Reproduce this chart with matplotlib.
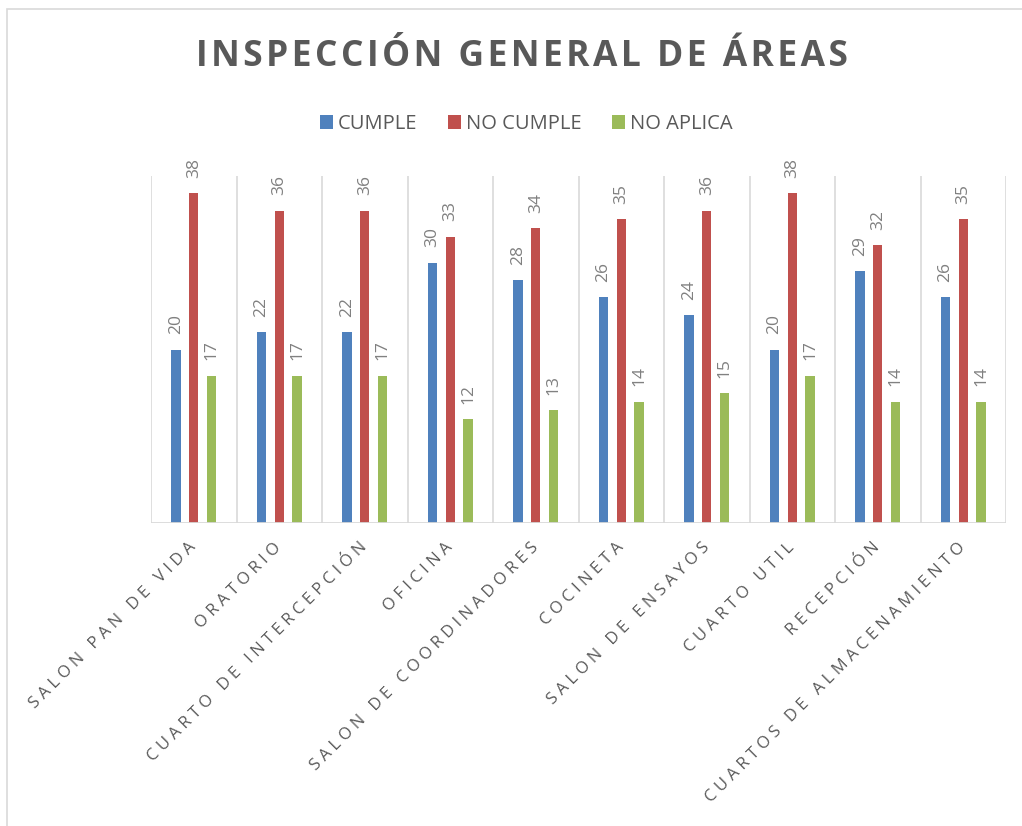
import matplotlib
matplotlib.use("Agg")
import matplotlib.pyplot as plt
import numpy as np
from matplotlib.patches import Rectangle

categories = ["SALON PAN DE VIDA", "ORATORIO", "CUARTO DE INTERCEPCIÓN", "OFICINA",
              "SALON DE COORDINADORES", "COCINETA", "SALON DE ENSAYOS", "CUARTO UTIL",
              "RECEPCIÓN", "CUARTOS DE ALMACENAMIENTO"]
cumple = [20, 22, 22, 30, 28, 26, 24, 20, 29, 26]
no_cumple = [38, 36, 36, 33, 34, 35, 36, 38, 32, 35]
no_aplica = [17, 17, 17, 12, 13, 14, 15, 17, 14, 14]
series_names = ["CUMPLE", "NO CUMPLE", "NO APLICA"]
colors = ["#4F81BD", "#C0504D", "#9BBB59"]
title = "INSPECCIÓN GENERAL DE ÁREAS"

def track(s, sep=" "):
    words = s.split(" ")
    return (sep * 3).join(sep.join(list(w)) for w in words)

plt.rcParams['font.family'] = ['Open Sans', 'DejaVu Sans']

fig = plt.figure(figsize=(10.22, 8.26), dpi=100)
fig.patch.set_facecolor("white")
fig.add_artist(Rectangle((7/1022, -0.1), 1.2, 1 - 9/826 + 0.1, transform=fig.transFigure,
                         fill=False, edgecolor="#d9d9d9", linewidth=1.2))

ax = fig.add_axes([151/1022, 1 - 523/826, (1006 - 151)/1022, (523 - 176)/826])
x = np.arange(len(categories))
w = 0.109
step = 0.207
for i, (vals, name, c) in enumerate(zip([cumple, no_cumple, no_aplica], series_names, colors)):
    bars = ax.bar(x + (i - 1) * step, vals, width=w, color=c, label=name, zorder=3)
    for b, v in zip(bars, vals):
        ax.annotate(str(v), (b.get_x() + b.get_width() / 2, v), xytext=(0, 11),
                    textcoords="offset points", rotation=90, ha="center", va="bottom",
                    fontsize=12.5, color="#808080")

ax.set_xlim(-0.5, len(categories) - 0.5)
ax.set_ylim(0, 40)
for b in np.arange(-0.5, len(categories), 1.0):
    ax.axvline(b, color="#d9d9d9", linewidth=1.2, zorder=1)
for s in ax.spines.values():
    s.set_visible(False)
ax.axhline(0, color="#d9d9d9", linewidth=2, zorder=4)
ax.set_yticks([])
ax.set_xticks(x)
ax.set_xticklabels([track(c) for c in categories], rotation=45, ha="right", va="center",
                   rotation_mode="anchor", fontsize=12, color="#595959")
ax.tick_params(axis="x", length=0, pad=16)

fig.text(0.5105, 1 - 57/826, "\u200a".join(title), ha="center", va="center", fontsize=25.5,
         fontweight="bold", color="#595959")
fig.legend(loc="center", bbox_to_anchor=(0.515, 1 - 124/826), ncol=3, frameon=False,
           fontsize=14.5, labelcolor="#595959", handlelength=0.65, handleheight=0.65,
           handletextpad=0.25, columnspacing=1.5)

fig.savefig("out.png", dpi=100)
